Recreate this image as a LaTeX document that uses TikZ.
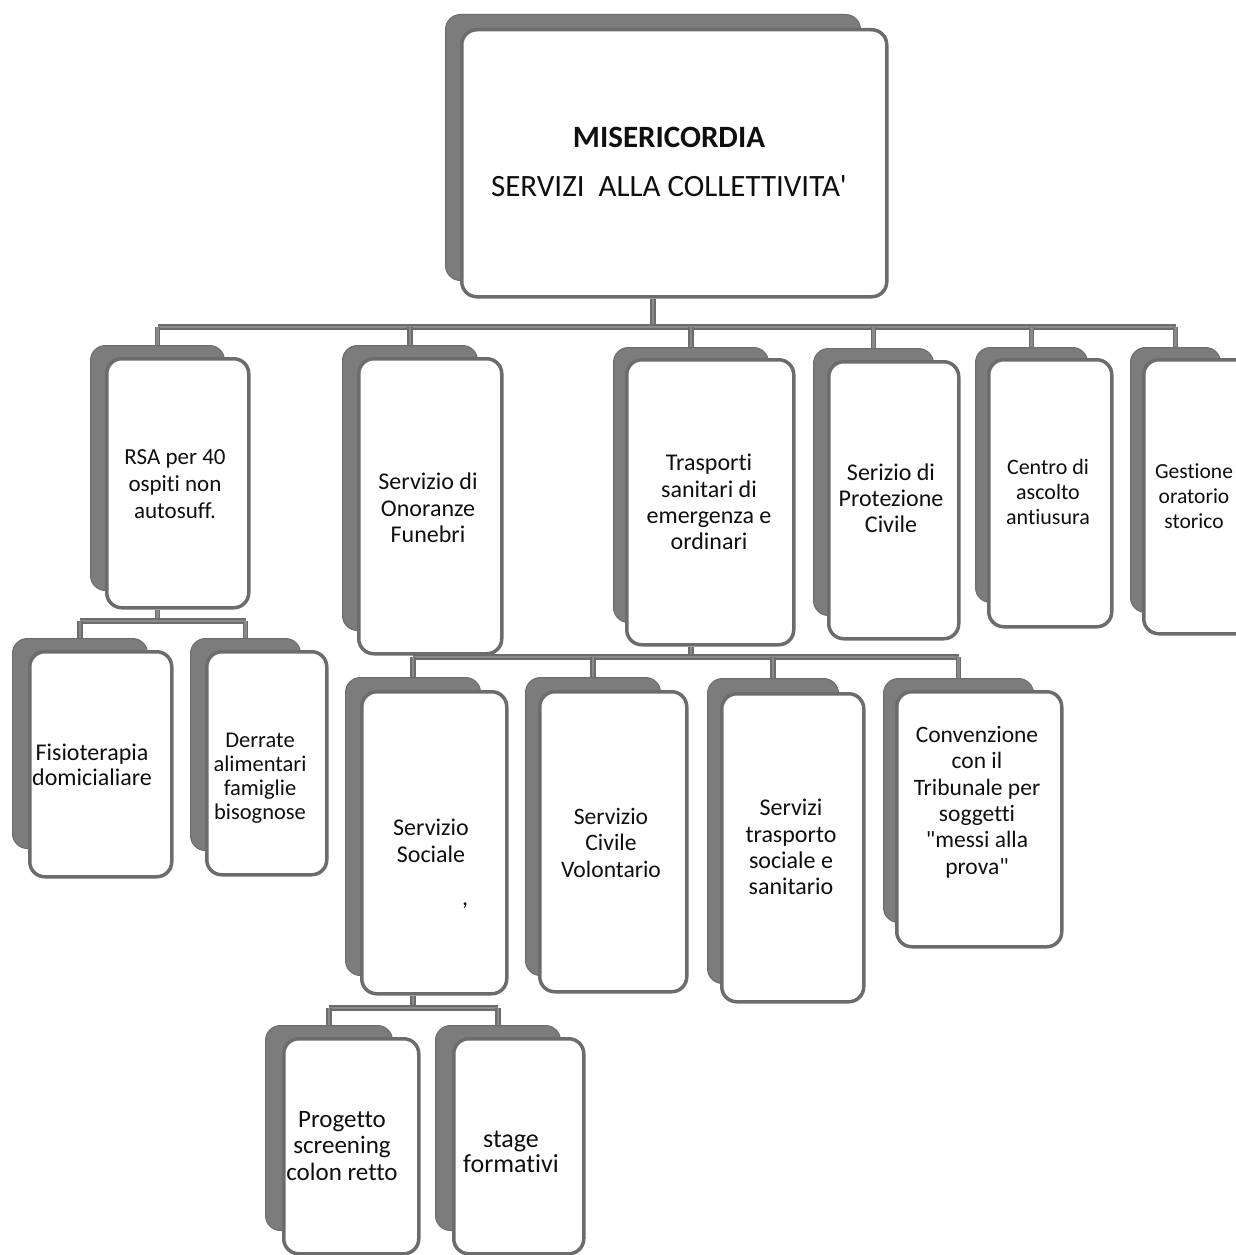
\documentclass[tikz,border=0pt]{standalone}
\usepackage{fontspec}
\setmainfont{Carlito}[Ligatures={TeXOff,CommonOff}]
\definecolor{shadowgray}{RGB}{124,124,124}
\definecolor{edgegray}{RGB}{108,108,108}
\definecolor{linegray}{RGB}{138,138,138}
\definecolor{textblack}{RGB}{15,15,15}
\newcommand{\myfs}[2]{\fontsize{#1}{#2}\selectfont}
\newcommand{\mcard}[9]{%
  \node[shadowcard, anchor=north west, minimum width={(#4-#2)*1pt}, minimum height={(#5-#3)*1pt}] (#1-s) at (#2,#3) {};
  \node[frontcard, anchor=north west, minimum width={(#8-#6)*1pt}, minimum height={(#9-#7)*1pt}] (#1) at (#6,#7) {};
}
\tikzset{
  shadowcard/.style={fill=shadowgray, draw=edgegray, line width=1pt, rounded corners=15pt, inner sep=0pt},
  frontcard/.style={fill=white, draw=edgegray, line width=3.5pt, rounded corners=15pt, inner sep=0pt},
  conn/.style={draw=edgegray, line width=1.5pt, double=linegray, double distance=2.6pt},
  lbl/.style={anchor=north, inner sep=0pt, align=center, text=textblack, execute at begin node={\rule{0pt}{20pt}}},
}
\begin{document}
\begin{tikzpicture}[x=1pt, y=-1pt]
\fill[white] (0,0) rectangle (1236,1255);
\useasboundingbox (0,0) rectangle (1236,1255);

% cards
\mcard{top}{445}{14}{860}{280}{460}{28}{885}{295}
\mcard{rsa}{90}{345}{224}{590}{105}{357}{247}{606}
\mcard{ono}{342}{345}{477}{630}{357}{357}{500}{652}
\mcard{tra}{613}{347}{768}{622}{625}{358}{792}{643}
\mcard{pro}{813}{348}{933}{615}{827}{360}{957}{637}
\mcard{cen}{975}{347}{1087}{602}{987}{358}{1110}{625}
\mcard{ges}{1130}{347}{1220}{612}{1142}{358}{1255}{632}
\mcard{fis}{12}{638}{147}{848}{28}{650}{170}{875}
\mcard{der}{190}{638}{300}{850}{205}{650}{325}{873}
\mcard{soc}{345}{677}{480}{975}{360}{690}{505}{992}
\mcard{civ}{525}{677}{660}{975}{538}{690}{685}{990}
\mcard{tsp}{707}{678}{838}{983}{720}{692}{862}{1000}
\mcard{con}{883}{678}{1033}{922}{895}{690}{1060}{945}
\mcard{prg}{265}{1025}{392}{1230}{282}{1037}{417}{1252}
\mcard{stg}{435}{1025}{560}{1230}{452}{1037}{582}{1252}

% connectors
\draw[conn] (top-s.south |- top.south) -- (top-s.south |- 0,327);
\draw[conn] (rsa-s.north |- 0,327) -- (ges-s.north |- 0,327);
\foreach \n in {rsa,ono,tra,pro,cen,ges}{
  \draw[conn] (\n-s.north |- 0,327) -- (\n-s.north);
}
\draw[conn] (rsa-s.south |- rsa.south) -- (rsa-s.south |- 0,621);
\draw[conn] (fis-s.north |- 0,621) -- (der-s.north |- 0,621);
\foreach \n in {fis,der}{
  \draw[conn] (\n-s.north |- 0,621) -- (\n-s.north);
}
\draw[conn] (tra-s.south |- tra.south) -- (tra-s.south |- 0,657);
\draw[conn] (soc-s.north |- 0,657) -- (con-s.north |- 0,657);
\foreach \n in {soc,civ,tsp,con}{
  \draw[conn] (\n-s.north |- 0,657) -- (\n-s.north);
}
\draw[conn] (soc-s.south |- soc.south) -- (soc-s.south |- 0,1008);
\draw[conn] (prg-s.north |- 0,1008) -- (stg-s.north |- 0,1008);
\foreach \n in {prg,stg}{
  \draw[conn] (\n-s.north |- 0,1008) -- (\n-s.north);
}

% labels
\node[lbl, font=\myfs{31}{49}, execute at begin node={\rule{0pt}{26pt}}] (top-t) at (669,127) {\textbf{MISERICORDIA}\\SERVIZI\ \ ALLA COLLETTIVITA'};
\node[lbl, font=\myfs{23}{27}] (rsa-t) at (175,449) {RSA per 40\\ospiti non\\autosuff.};
\node[lbl, font=\myfs{24}{26.5}] (ono-t) at (428,473) {Servizio di\\Onoranze\\Funebri};
\node[lbl, font=\myfs{24}{26.3}] (tra-t) at (709,454) {Trasporti\\sanitari di\\emergenza e\\ordinari};
\node[lbl, font=\myfs{24}{26}] (pro-t) at (891,464) {Serizio di\\Protezione\\Civile};
\node[lbl, font=\myfs{22}{25}] (cen-t) at (1048,459) {Centro di\\ascolto\\antiusura};
\node[lbl, font=\myfs{21.5}{25}] (ges-t) at (1194,464) {Gestione\\oratorio\\storico};
\node[lbl, font=\myfs{24}{25}] (fis-t) at (92,744) {Fisioterapia\\domicialiare};
\node[lbl, font=\myfs{22.5}{24}] (der-t) at (260,733) {Derrate\\alimentari\\famiglie\\bisognose};
\node[lbl, font=\myfs{24}{27}] (soc-t) at (431,819) {Servizio\\Sociale};
\node[anchor=base, inner sep=0pt, text=textblack, font=\myfs{24}{27}] (soc-c) at (465,905) {,};
\node[lbl, font=\myfs{23.6}{26.5}] (civ-t) at (611,808) {Servizio\\Civile\\Volontario};
\node[lbl, font=\myfs{24}{26.3}] (tsp-t) at (791,799) {Servizi\\trasporto\\sociale e\\sanitario};
\node[lbl, font=\myfs{23.5}{26.4}] (con-t) at (977,726) {Convenzione\\con il\\Tribunale per\\soggetti\\"messi alla\\prova"};
\node[lbl, font=\myfs{25}{26.5}] (prg-t) at (342,1111) {Progetto\\screening\\colon retto};
\node[lbl, font=\myfs{26}{25}] (stg-t) at (511,1131) {stage\\formativi};
\end{tikzpicture}
\end{document}
